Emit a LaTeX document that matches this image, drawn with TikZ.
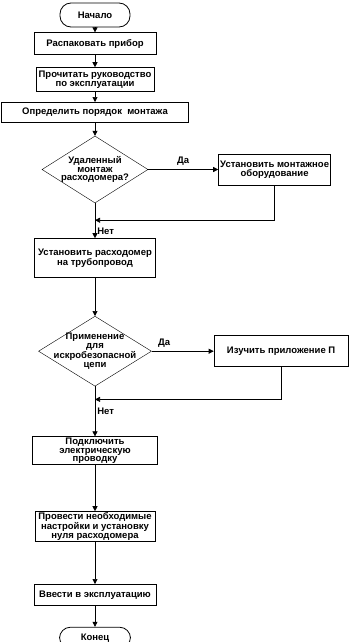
\documentclass[tikz,border=0pt]{standalone}
\usepackage{fontspec}
\setmainfont{Liberation Sans}
\usetikzlibrary{arrows.meta,positioning,shapes.geometric}

\begin{document}
\begin{tikzpicture}[
    font=\fontsize{9.5}{8.6}\selectfont\bfseries,
    box/.style={
        draw,
        line width=0.8pt,
        align=center,
        inner sep=1pt
    },
    term/.style={
        draw,
        line width=0.8pt,
        rounded corners=11pt,
        align=center,
        minimum width=70pt,
        minimum height=22pt
    },
    decision/.style={
        draw,
        diamond,
        line width=0.4pt,
        inner sep=0pt
    },
    arrow/.style={
        -{Triangle[length=5pt,width=5pt]},
        line width=0.6pt
    }
]

\path[use as bounding box] (0,0) rectangle (350pt,-642pt);

% ------------------------------------------------------------------
% Preparation
% ------------------------------------------------------------------

\node[term, minimum height=24pt] (start) at (95pt,-15pt)
    {Начало};

\node[box, minimum width=122pt, minimum height=22pt, below=5pt of start] (unpack)
    {Распаковать прибор};

\node[box, minimum width=118pt, minimum height=24pt, below=12pt of unpack] (manual)
    {Прочитать руководство\\по эксплуатации};

\node[box, minimum width=187pt, minimum height=20pt, below=10pt of manual] (order)
    {Определить порядок\ \ монтажа};

\draw[arrow] (start) -- (unpack);
\draw[arrow] (unpack) -- (manual);
\draw[arrow] (manual) -- (order);

% ------------------------------------------------------------------
% Remote mounting
% ------------------------------------------------------------------

\node[decision, minimum width=106pt, minimum height=67pt, below=13pt of order,
    label={[align=center]center:Удаленный\\монтаж\\расходомера?}] (remote) {};

\node[box, minimum width=112pt, minimum height=31pt, right=70pt of remote] (mounting)
    {Установить монтажное\\оборудование};

\node[box, minimum width=121pt, minimum height=39pt, below=35pt of remote] (install)
    {Установить расходомер\\на трубопровод};

\coordinate[below=17pt of remote] (remotejoin);

\draw[arrow] (order) -- (remote);
\draw[arrow] (remote) -- node[above] {Да} (mounting);
\draw[arrow] (mounting.south) |- (remotejoin);
\draw[arrow] (remote) -- node[right, pos=0.8, inner sep=2pt] {Нет} (install);

% ------------------------------------------------------------------
% Intrinsically safe circuit
% ------------------------------------------------------------------

\node[decision, minimum width=113pt, minimum height=70pt, below=38pt of install,
    label={[align=center]center:Применение\\для\\искробезопасной\\цепи}] (safety) {};

\node[box, minimum width=134pt, minimum height=31pt, right=62pt of safety] (appendix)
    {Изучить приложение П};

\node[box, minimum width=125pt, minimum height=28pt, below=50pt of safety] (wiring)
    {Подключить\\электрическую\\проводку};

\coordinate[below=13pt of safety] (safetyjoin);

\draw[arrow] (install) -- (safety);
\draw[arrow] (safety) -- node[above, pos=0.2] {Да} (appendix);
\draw[arrow] (appendix.south) |- (safetyjoin);
\draw[arrow] (safety) -- node[right, pos=0.5, inner sep=2pt] {Нет} (wiring);

% ------------------------------------------------------------------
% Setup and commissioning
% ------------------------------------------------------------------

\node[box, minimum width=120pt, minimum height=30pt, below=46pt of wiring] (setup)
    {Провести необходимые\\настройки и установку\\нуля расходомера};

\node[box, minimum width=122pt, minimum height=21pt, below=42pt of setup] (commission)
    {Ввести в эксплуатацию};

\node[term, minimum width=71pt, minimum height=21pt, below=21pt of commission] (finish)
    {Конец};

\draw[arrow] (wiring) -- (setup);
\draw[arrow] (setup) -- (commission);
\draw[arrow] (commission) -- (finish);

\end{tikzpicture}
\end{document}
